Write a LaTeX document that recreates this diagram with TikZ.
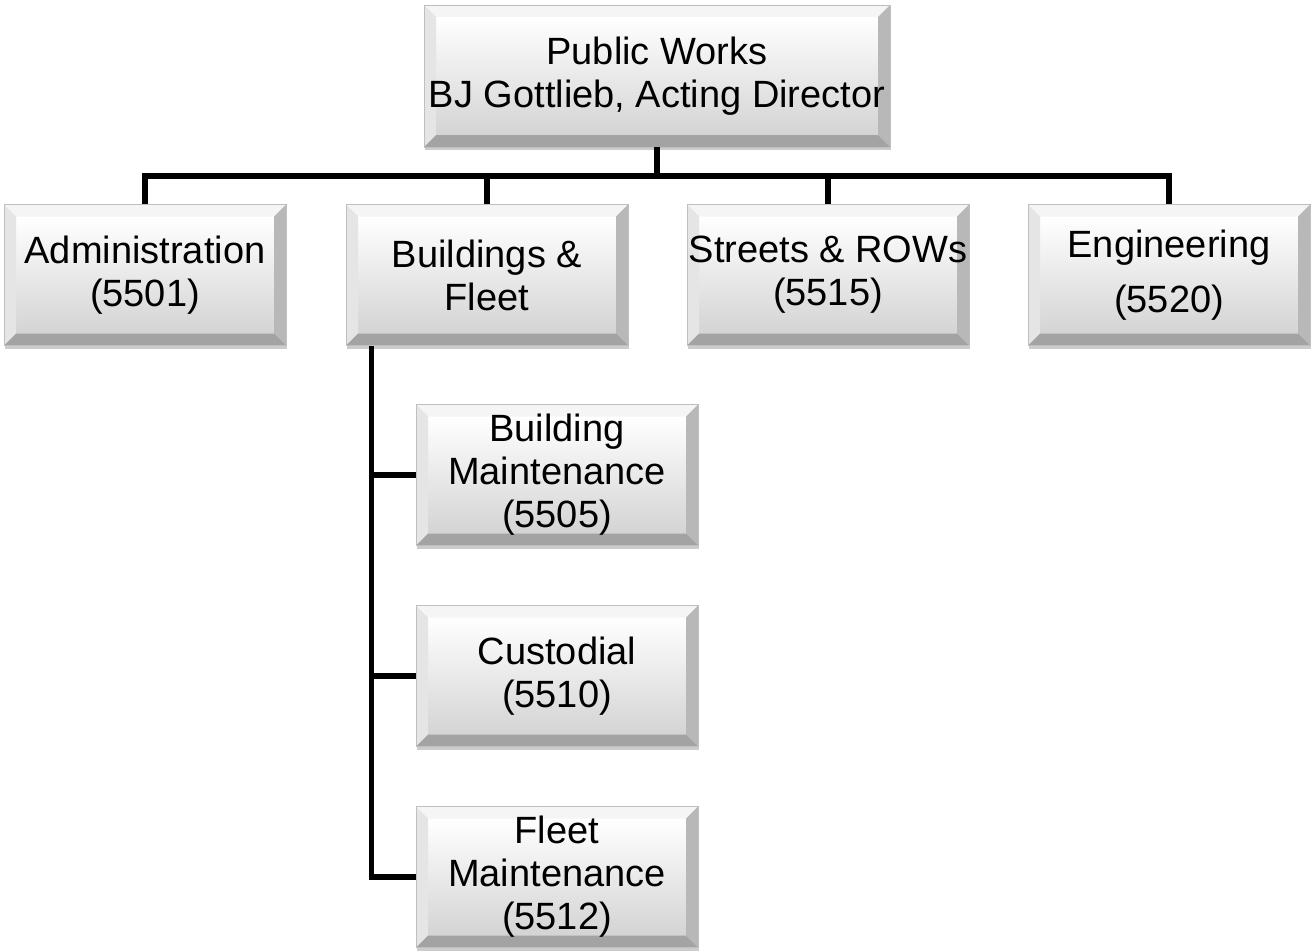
\documentclass[tikz,border=0pt]{standalone}
\usepackage{fontspec}
\setmainfont{Liberation Sans}
\usetikzlibrary{shadows,calc}
\tikzset{
  bev/.style={rectangle, minimum width=282pt, minimum height=141pt, inner sep=0pt,
    align=center, font=\fontsize{38}{43}\selectfont, text=black,
    draw=black!25, line width=0.8pt, fill=white,
    drop shadow={shadow xshift=1pt, shadow yshift=-3pt, fill=black, opacity=0.2},
    path picture={
      \coordinate (pNW) at (path picture bounding box.north west);
      \coordinate (pNE) at (path picture bounding box.north east);
      \coordinate (pSW) at (path picture bounding box.south west);
      \coordinate (pSE) at (path picture bounding box.south east);
      \shade[top color=white, bottom color=black!17]
        ($(pNW)+(12pt,-12pt)$) rectangle ($(pSE)+(-12pt,12pt)$);
      \fill[black!4] (pNW) -- (pNE) -- ($(pNE)+(-12pt,-12pt)$) -- ($(pNW)+(12pt,-12pt)$) -- cycle;
      \fill[black!10] (pNW) -- (pSW) -- ($(pSW)+(12pt,12pt)$) -- ($(pNW)+(12pt,-12pt)$) -- cycle;
      \fill[black!28] (pNE) -- (pSE) -- ($(pSE)+(-12pt,12pt)$) -- ($(pNE)+(-12pt,-12pt)$) -- cycle;
      \fill[black!36] (pSW) -- (pSE) -- ($(pSE)+(-12pt,12pt)$) -- ($(pSW)+(12pt,12pt)$) -- cycle;
    }},
  topbox/.style={bev, minimum width=466pt, minimum height=142pt},
  conn/.style={draw=black, line width=5.5pt, line cap=butt, line join=miter}
}
\begin{document}
\begin{tikzpicture}[x=1pt,y=-1pt]
\useasboundingbox (0,0) rectangle (1311,950);
\node[topbox] (top) at (657,76) {Public Works\\BJ Gottlieb, Acting Director};
\node[bev] (adm) at (145,275) {Administration\\(5501)};
\node[bev] (bf) at (487,275) {Buildings \&\\Fleet};
\node[bev] (st) at (828,275) {Streets \& ROWs\\(5515)};
\node[bev] (eng) at (1169,275) {Engineering\\[12pt](5520)};
\node[bev] (bm) at (557,475) {Building\\Maintenance\\(5505)};
\node[bev] (cu) at (557,676) {Custodial\\(5510)};
\node[bev] (fm) at (557,877) {Fleet\\Maintenance\\(5512)};
\coordinate (bus) at (657,176);
\coordinate (sp) at ([xshift=26pt]bf.south west);
\draw[conn] (top.south) -- (bus);
\draw[conn] (adm.north) |- (bus) -| (eng.north);
\draw[conn] (bf.north) -- (bf.north |- bus);
\draw[conn] (st.north) -- (st.north |- bus);
\draw[conn] (sp) |- (fm.west);
\draw[conn] (sp |- bm.west) -- (bm.west);
\draw[conn] (sp |- cu.west) -- (cu.west);
\end{tikzpicture}
\end{document}
